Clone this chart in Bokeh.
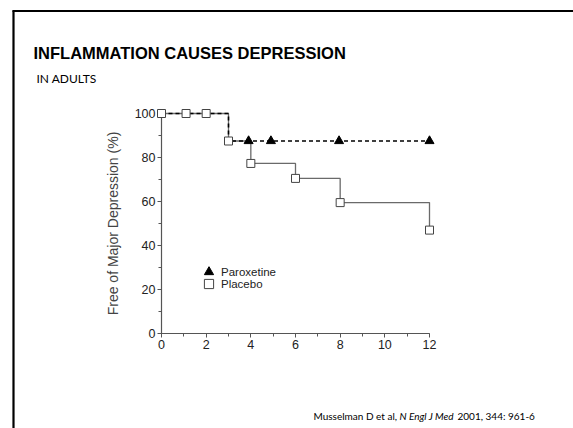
from bokeh.plotting import figure
from bokeh.models import Legend, LegendItem, FixedTicker, Range1d
from bokeh.core.properties import value
from bokeh.embed import file_html
from bokeh.resources import INLINE

# ---- data ----
title_text = "INFLAMMATION CAUSES DEPRESSION"
subtitle_text = "IN ADULTS"
cite_texts = ["Musselman D et al,", "N Engl J Med", "2001, 344: 961-6"]
y_label = "Free of Major Depression (%)"
series_names = ["Paroxetine", "Placebo"]

weeks_placebo = [0, 1.1, 2, 3, 4, 6, 8, 12]
free_placebo = [100, 100, 100, 87.5, 77.3, 70.5, 59.5, 47]

weeks_parox_line = [0, 3, 12]
free_parox_line = [100, 87.5, 87.5]
weeks_parox_marks = [3.9, 4.9, 7.95, 12]
free_parox_marks = [87.5, 87.5, 87.5, 87.5]

x_ticks = [0, 2, 4, 6, 8, 10, 12]
y_ticks = [0, 20, 40, 60, 80, 100]

# ---- layout (pixels) ----
W, H = 573, 428
FL, FT, FW, FH = 161, 113, 268, 220   # frame left/top/width/height
XR = (0, 12)
YR = (0, 100)

p = figure(width=W, height=H, output_backend="svg", toolbar_location=None,
           x_range=Range1d(*XR), y_range=Range1d(*YR),
           min_border_left=FL, min_border_right=W - FL - FW,
           min_border_top=FT, min_border_bottom=H - FT - FH)
p.grid.visible = False
p.outline_line_color = None
p.background_fill_color = "white"
p.border_fill_color = "white"


def sx(px):  # page pixel -> data x (for placing decorations outside the frame)
    return XR[0] + (px - FL) / FW * (XR[1] - XR[0])


def sy(py):  # page pixel -> data y
    return YR[0] + (FT + FH - py) / FH * (YR[1] - YR[0])


axis_col = "#555555"
for ax in (p.xaxis[0], p.yaxis[0]):
    ax.axis_line_color = axis_col
    ax.axis_line_width = 1.2
    ax.major_tick_line_color = axis_col
    ax.minor_tick_line_color = axis_col
    ax.major_tick_in = 0
    ax.major_tick_out = 4
    ax.minor_tick_in = 0
    ax.minor_tick_out = 3
    ax.major_label_text_font = "Liberation Sans"
    ax.major_label_text_font_size = "12.5px"
    ax.major_label_text_color = "#222222"
    ax.major_label_standoff = 2

p.xaxis[0].ticker = FixedTicker(ticks=x_ticks, minor_ticks=list(range(0, 13)))
p.yaxis[0].ticker = FixedTicker(ticks=y_ticks, minor_ticks=list(range(0, 101, 10)))
p.yaxis[0].axis_label = y_label
p.yaxis[0].axis_label_text_font = "Liberation Sans"
p.yaxis[0].axis_label_text_font_style = "normal"
p.yaxis[0].axis_label_text_font_size = "14px"
p.yaxis[0].axis_label_text_color = "#444444"
p.yaxis[0].axis_label_standoff = 11

# step lines
pl_line = p.step(weeks_placebo, free_placebo, mode="after", line_color="#6a6a6a", line_width=1.3)
px_line = p.step(weeks_parox_line, free_parox_line, mode="after", line_color="black",
                 line_width=1.6, line_dash="4 3")
pl_line.level = "overlay"
px_line.level = "overlay"

pl_mark = p.scatter(weeks_placebo, free_placebo, marker="square", size=8,
                    fill_color="white", line_color="#444444", line_width=1)
px_mark = p.scatter(weeks_parox_marks, free_parox_marks, marker="triangle", size=9,
                    fill_color="black", line_color="black")
pl_mark.level = "overlay"
px_mark.level = "overlay"

# legend: one box per entry so the rows can sit close together
for name, rend, loc in [(series_names[0], px_mark, (36, 50)), (series_names[1], pl_mark, (36, 38))]:
    lg = Legend(items=[LegendItem(label=name, renderers=[rend])],
                location=loc, orientation="vertical",
                glyph_width=23, glyph_height=23, label_standoff=1,
                padding=0, margin=0, border_line_color=None, background_fill_alpha=0,
                label_text_font="Liberation Sans", label_text_font_size="11.5px",
                label_text_color="#222222", label_height=12)
    p.add_layout(lg, "center")

# slide texts
t1 = p.text(x=[sx(33)], y=[sy(52)], text=[title_text], text_font=value("Liberation Sans"),
            text_font_style="bold", text_font_size="16.5px", text_color="black",
            text_baseline="alphabetic", text_align="left")
t2 = p.text(x=[sx(36)], y=[sy(78)], text=[subtitle_text], text_font=value("Lato"),
            text_font_size="12px", text_color="black", text_baseline="alphabetic", text_align="left")
cite_x = [313, 399, 457]
cite_style = ["normal", "italic", "normal"]
trs = [t1, t2]
for txt, st, cx in zip(cite_texts, cite_style, cite_x):
    trs.append(p.text(x=[sx(cx)], y=[sy(415.5)], text=[txt], text_font=value("Lato"),
                      text_font_style=st, text_font_size="10px", text_color="black",
                      text_baseline="alphabetic", text_align="left"))
for r in trs:
    r.level = "overlay"

# slide frame lines
fr = p.segment(x0=[sx(12), sx(13)], y0=[sy(10.5), sy(10)], x1=[sx(W + 5), sx(13)], y1=[sy(10.5), sy(H + 5)],
               line_color="black", line_width=2.2)
fr.level = "overlay"

open("out.html", "w").write(file_html(p, INLINE))
